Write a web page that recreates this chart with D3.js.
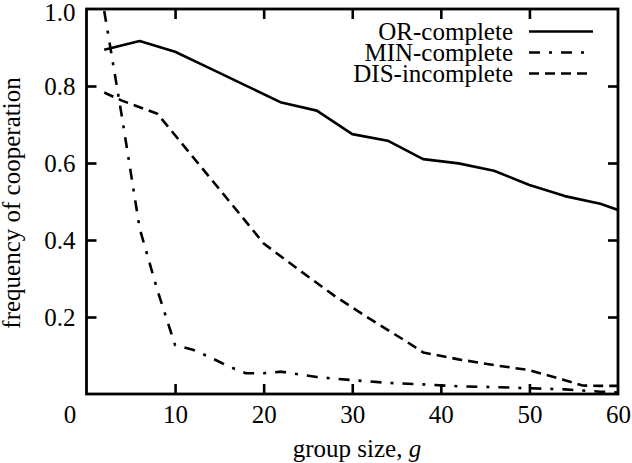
<!DOCTYPE html>
<html>
<head>
<meta charset="utf-8">
<script src="https://cdn.jsdelivr.net/npm/d3@7/dist/d3.min.js"></script>
<style>
  html, body { margin: 0; padding: 0; background: #fff; }
  svg { display: block; }
  svg text { font-family: "Liberation Serif", "Times New Roman", Times, Tinos, "Nimbus Roman", "DejaVu Serif", serif !important; fill: #000; }
</style>
</head>
<body>
<svg id="chart" width="632" height="463"></svg>
<script>
// ---- data ----
const orG   = [2, 6, 10, 14, 18, 22, 26, 30, 34, 38, 42, 46, 50, 54, 58, 60];
const orV   = [0.894, 0.917, 0.889, 0.845, 0.801, 0.757, 0.736, 0.675, 0.658, 0.610, 0.599, 0.580, 0.543, 0.514, 0.494, 0.478];

const minG  = [2, 4, 6, 8, 10, 12, 14, 16, 18, 20, 22, 26, 30, 34, 38, 42, 46, 50, 54, 58, 60];
const minV  = [0.995, 0.72, 0.43, 0.27, 0.127, 0.115, 0.095, 0.072, 0.054, 0.054, 0.058, 0.044, 0.036, 0.029, 0.025, 0.020, 0.018, 0.015, 0.012, 0.006, 0.004];

const disG  = [2, 4, 8, 12, 16, 20, 24, 28, 32, 36, 38, 42, 46, 50, 54, 56, 58, 60];
const disV  = [0.783, 0.762, 0.728, 0.616, 0.504, 0.391, 0.322, 0.255, 0.195, 0.138, 0.108, 0.090, 0.075, 0.062, 0.036, 0.022, 0.021, 0.021];

const seriesNames = ["OR-complete", "MIN-complete", "DIS-incomplete"];
const xTicks = [0, 10, 20, 30, 40, 50, 60];
const yTicks = [0, 0.2, 0.4, 0.6, 0.8, 1.0];
const yLabels = ["", "0.2", "0.4", "0.6", "0.8", "1.0"];
const xLabel = "group size, ";
const xLabelVar = "g";
const yLabel = "frequency of cooperation";

// ---- layout ----
const FONT = '"Liberation Serif", "Times New Roman", Times, serif';
const svg = d3.select("#chart");
const L = 86.5, R = 618, T = 9, B = 394;
const x = d3.scaleLinear().domain([0, 60]).range([L, R]);
const y = d3.scaleLinear().domain([0, 1]).range([B, T]);
const FS = 25;
const tickLen = 10;

svg.append("defs").append("clipPath").attr("id", "clip")
  .append("rect").attr("x", L).attr("y", T).attr("width", R - L).attr("height", B - T);

const dashes = ["none", "11,9,3,9", "10,6"];
const series = [
  { g: orG, v: orV },
  { g: minG, v: minV },
  { g: disG, v: disV }
];

const line = d3.line().x(d => x(d[0])).y(d => y(d[1]));
const plot = svg.append("g").attr("clip-path", "url(#clip)");
series.forEach((s, i) => {
  plot.append("path")
    .datum(s.g.map((g, k) => [g, s.v[k]]))
    .attr("d", line)
    .attr("fill", "none")
    .attr("stroke", "#000")
    .attr("stroke-width", 2.6)
    .attr("stroke-linejoin", "round")
    .attr("stroke-dasharray", dashes[i]);
});

// ---- axes ----
const inner = xTicks.slice(1, -1);
const innerY = yTicks.slice(1, -1);

const xAxisB = d3.axisBottom(x).tickValues(xTicks).tickSize(-tickLen).tickFormat(d3.format("d"));
const gxb = svg.append("g").attr("transform", `translate(0,${B})`).call(xAxisB)
  .attr("font-family", FONT).attr("font-size", FS);
gxb.select(".domain").remove();
gxb.selectAll("line").attr("stroke", "#000").attr("stroke-width", 2.6)
  .attr("display", d => inner.includes(d) ? null : "none");
gxb.selectAll("text").attr("dy", "0.35em").attr("y", 20)
  .attr("x", d => d === 0 ? -17 : 0);

const xAxisT = d3.axisTop(x).tickValues(inner).tickSize(-tickLen).tickFormat("");
const gxt = svg.append("g").attr("transform", `translate(0,${T})`).call(xAxisT);
gxt.select(".domain").remove();
gxt.selectAll("line").attr("stroke", "#000").attr("stroke-width", 2.6);

const yAxisL = d3.axisLeft(y).tickValues(yTicks).tickSize(-tickLen)
  .tickFormat((d, i) => yLabels[i]);
const gyl = svg.append("g").attr("transform", `translate(${L},0)`).call(yAxisL)
  .attr("font-family", FONT).attr("font-size", FS);
gyl.select(".domain").remove();
gyl.selectAll("line").attr("stroke", "#000").attr("stroke-width", 2.6)
  .attr("display", d => innerY.includes(d) ? null : "none");
gyl.selectAll("text").attr("x", -11).attr("dy", "0.34em");
gyl.selectAll(".tick").filter(d => d === 1).select("text").attr("dy", "0.45em");

const yAxisR = d3.axisRight(y).tickValues(innerY).tickSize(-tickLen).tickFormat("");
const gyr = svg.append("g").attr("transform", `translate(${R},0)`).call(yAxisR);
gyr.select(".domain").remove();
gyr.selectAll("line").attr("stroke", "#000").attr("stroke-width", 2.6);

// frame
svg.append("rect").attr("x", L).attr("y", T).attr("width", R - L).attr("height", B - T)
  .attr("fill", "none").attr("stroke", "#000").attr("stroke-width", 2.8);

// ---- axis titles ----
const xt = svg.append("text").attr("x", 357).attr("y", 457).attr("text-anchor", "middle")
  .attr("font-size", FS);
xt.append("tspan").text(xLabel);
xt.append("tspan").attr("font-style", "italic").text(xLabelVar);

svg.append("text").attr("transform", "translate(19.5,203) rotate(-90)")
  .attr("text-anchor", "middle").attr("font-size", FS).text(yLabel);

// ---- legend ----
const legY = [31.5, 52.5, 73.5];
seriesNames.forEach((name, i) => {
  svg.append("text").attr("x", 513).attr("y", legY[i]).attr("dy", "0.33em")
    .attr("text-anchor", "end").attr("font-size", FS).text(name);
  svg.append("line").attr("x1", 529).attr("x2", 593).attr("y1", legY[i]).attr("y2", legY[i])
    .attr("stroke", "#000").attr("stroke-width", 2.6).attr("stroke-dasharray", dashes[i]);
});
</script>
</body>
</html>
